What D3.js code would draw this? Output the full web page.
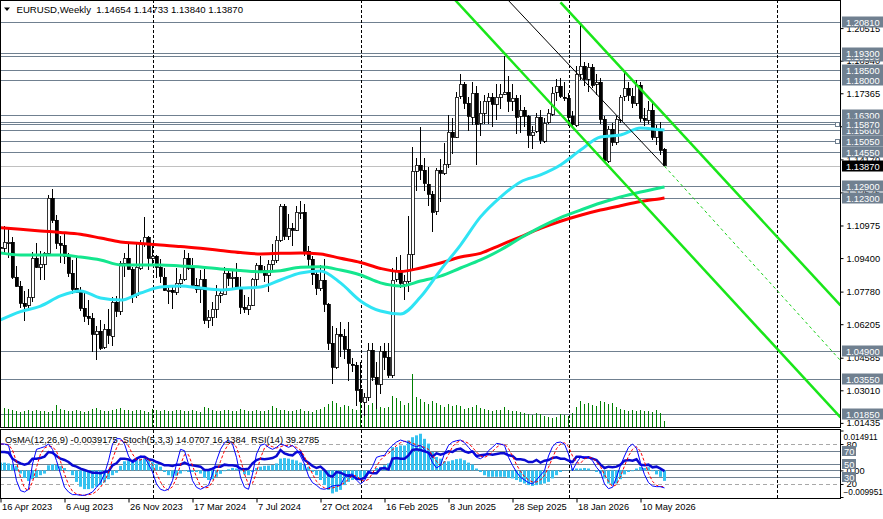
<!DOCTYPE html>
<html>
<head>
<meta charset="utf-8">
<script src="https://cdn.jsdelivr.net/npm/d3@7"></script>
<style>
  html, body { margin: 0; padding: 0; background: #fff; }
  svg { display: block; font-family: "Liberation Sans", Arial, sans-serif; }
</style>
</head>
<body>
<div id="chart"></div>
<script>
// weekly EURUSD bars, first bar on Sunday 16 Apr 2023
const symbolName = "EURUSD,Weekly";
const firstBarDate = "2023-04-16";

const openPrices = [
  1.0995,1.0990,1.1017,1.1018,1.0850,1.0805,1.0725,1.0710,1.0750,1.0940,
  1.0895,1.0910,1.0965,1.1230,1.1125,1.1015,1.1005,1.0950,1.0870,1.0795,
  1.0775,1.0700,1.0660,1.0650,1.0575,1.0590,1.0510,1.0595,1.0565,1.0730,
  1.0685,1.0915,1.0940,1.0885,1.0760,1.0895,1.1010,1.1040,1.0940,1.0950,
  1.0895,1.0850,1.0785,1.0785,1.0775,1.0820,1.0838,1.0940,1.0890,1.0808,
  1.0790,1.0837,1.0640,1.0655,1.0693,1.0760,1.0770,1.0870,1.0845,1.0850,
  1.0800,1.0703,1.0692,1.0713,1.0840,1.0907,1.0880,1.0855,1.0910,1.0930,
  1.1027,1.1192,1.1048,1.1085,1.1075,1.1163,1.1165,1.0975,1.0937,1.0865,
  1.0795,1.0835,1.0720,1.0530,1.0415,1.0575,1.0565,1.0500,1.0430,1.0425,
  1.0305,1.0245,1.0270,1.0495,1.0365,1.0330,1.0490,1.0460,1.0375,1.0835,
  1.0880,1.0815,1.0830,1.0960,1.1360,1.1390,1.1365,1.1300,1.1250,1.1165,
  1.1365,1.1350,1.1395,1.1550,1.1525,1.1720,1.1780,1.1690,1.1625,1.1740,
  1.1590,1.1640,1.1700,1.1720,1.1685,1.1720,1.1735,1.1745,1.1700,1.1715,
  1.1625,1.1655,1.1625,1.1535,1.1550,1.1620,1.1510,1.1595,1.1640,1.1740,
  1.1770,1.1720,1.1715,1.1625,1.1585,1.1830,1.1870,1.1805,1.1865,1.1780,
  1.1790,1.1610,1.1410,1.1565,1.1500,1.1610,1.1720,1.1760,1.1725,1.1690,
  1.1775,1.1615,1.1605,1.1655,1.1525,1.1560,1.14654
];
const highPrices = [
  1.1000,1.1095,1.1092,1.1040,1.0900,1.0830,1.0780,1.0790,1.0970,1.1012,
  1.0975,1.0970,1.1245,1.1276,1.1150,1.1045,1.1065,1.0965,1.0930,1.0945,
  1.0800,1.0770,1.0735,1.0675,1.0610,1.0640,1.0620,1.0695,1.0750,1.0755,
  1.0925,1.0965,1.1017,1.0895,1.1010,1.1025,1.1139,1.1045,1.1000,1.0955,
  1.0935,1.0890,1.0810,1.0805,1.0890,1.0865,1.0981,1.0965,1.0940,1.0845,
  1.0880,1.0885,1.0690,1.0730,1.0810,1.0790,1.0895,1.0885,1.0880,1.0915,
  1.0850,1.0760,1.0750,1.0845,1.0915,1.0948,1.0900,1.0930,1.1010,1.1045,
  1.1202,1.1202,1.1155,1.1110,1.1190,1.1214,1.1200,1.1000,1.0950,1.0875,
  1.0905,1.0935,1.0725,1.0610,1.0600,1.0630,1.0595,1.0630,1.0455,1.0440,
  1.0440,1.0290,1.0530,1.0530,1.0440,1.0515,1.0530,1.0530,1.0890,1.0945,
  1.0955,1.0860,1.1145,1.1475,1.1425,1.1573,1.1425,1.1380,1.1265,1.1375,
  1.1420,1.1495,1.1630,1.1615,1.1745,1.1830,1.1790,1.1720,1.1790,1.1770,
  1.1700,1.1730,1.1740,1.1740,1.1780,1.1780,1.1919,1.1820,1.1780,1.1730,
  1.1730,1.1670,1.1630,1.1580,1.1640,1.1655,1.1615,1.1660,1.1765,1.1805,
  1.1810,1.1790,1.1740,1.1650,1.1870,1.2075,1.1890,1.1885,1.1880,1.1830,
  1.1810,1.1625,1.1580,1.1595,1.1625,1.1730,1.1840,1.1790,1.1760,1.1800,
  1.1790,1.1665,1.1700,1.1690,1.1585,1.1600,1.14733
];
const lowPrices = [
  1.0910,1.0965,1.0940,1.0840,1.0800,1.0700,1.0635,1.0700,1.0730,1.0890,
  1.0835,1.0835,1.0960,1.1110,1.0985,1.0915,1.0910,1.0850,1.0766,1.0770,
  1.0685,1.0630,1.0615,1.0488,1.0448,1.0495,1.0500,1.0525,1.0515,1.0655,
  1.0665,1.0850,1.0880,1.0723,1.0745,1.0880,1.0995,1.0880,1.0905,1.0845,
  1.0820,1.0780,1.0720,1.0695,1.0760,1.0795,1.0830,1.0880,1.0800,1.0770,
  1.0725,1.0620,1.0601,1.0610,1.0650,1.0725,1.0765,1.0805,1.0790,1.0795,
  1.0668,1.0675,1.0665,1.0710,1.0795,1.0870,1.0825,1.0775,1.0880,1.0915,
  1.1020,1.1025,1.1025,1.1000,1.1070,1.1130,1.0950,1.0900,1.0810,1.0761,
  1.0780,1.0680,1.0495,1.0332,1.0405,1.0460,1.0450,1.0345,1.0390,1.0225,
  1.0240,1.0178,1.0250,1.0345,1.0210,1.0285,1.0400,1.0360,1.0360,1.0825,
  1.0795,1.0735,1.0775,1.0880,1.1265,1.1315,1.1265,1.1190,1.1065,1.1150,
  1.1210,1.1340,1.1375,1.1445,1.1520,1.1710,1.1660,1.1555,1.1585,1.1392,
  1.1530,1.1590,1.1590,1.1575,1.1605,1.1660,1.1730,1.1645,1.1650,1.1540,
  1.1545,1.1575,1.1470,1.1468,1.1545,1.1490,1.1495,1.1590,1.1625,1.1700,
  1.1715,1.1700,1.1580,1.1570,1.1575,1.1800,1.1770,1.1745,1.1760,1.1730,
  1.1590,1.1400,1.1400,1.1480,1.1485,1.1595,1.1700,1.1700,1.1665,1.1675,
  1.1600,1.1580,1.1590,1.1510,1.1485,1.1440,1.13840
];
const closePrices = [
  1.0990,1.1017,1.1018,1.0850,1.0805,1.0725,1.0710,1.0750,1.0940,1.0895,
  1.0910,1.0965,1.1230,1.1125,1.1015,1.1005,1.0950,1.0870,1.0795,1.0775,
  1.0700,1.0660,1.0650,1.0575,1.0590,1.0510,1.0595,1.0565,1.0730,1.0685,
  1.0915,1.0940,1.0885,1.0760,1.0895,1.1010,1.1040,1.0940,1.0950,1.0895,
  1.0850,1.0785,1.0785,1.0775,1.0820,1.0838,1.0940,1.0890,1.0808,1.0790,
  1.0837,1.0640,1.0655,1.0693,1.0760,1.0770,1.0870,1.0845,1.0850,1.0800,
  1.0703,1.0692,1.0713,1.0840,1.0907,1.0880,1.0855,1.0910,1.0930,1.1027,
  1.1192,1.1048,1.1085,1.1075,1.1163,1.1165,1.0975,1.0937,1.0865,1.0795,
  1.0835,1.0720,1.0530,1.0415,1.0575,1.0565,1.0500,1.0430,1.0425,1.0305,
  1.0245,1.0270,1.0495,1.0365,1.0330,1.0490,1.0460,1.0375,1.0835,1.0880,
  1.0815,1.0830,1.0960,1.1360,1.1390,1.1365,1.1300,1.1250,1.1165,1.1365,
  1.1350,1.1395,1.1550,1.1525,1.1720,1.1780,1.1690,1.1625,1.1740,1.1590,
  1.1640,1.1700,1.1720,1.1685,1.1720,1.1735,1.1745,1.1700,1.1715,1.1625,
  1.1655,1.1625,1.1535,1.1550,1.1620,1.1510,1.1595,1.1640,1.1740,1.1770,
  1.1720,1.1715,1.1625,1.1585,1.1830,1.1870,1.1805,1.1865,1.1780,1.1790,
  1.1610,1.1410,1.1565,1.1500,1.1610,1.1720,1.1760,1.1725,1.1690,1.1775,
  1.1615,1.1605,1.1655,1.1525,1.1560,1.1465,1.13870
];
const tickVolume = [
  170,190,180,170,160,150,160,170,160,170, 165,160,155,165,220,180,170,160,165,170,
  160,155,160,180,190,175,165,160,170,180, 190,175,170,165,170,175,160,150,180,170,
  165,170,160,165,175,170,160,165,170,160, 155,200,190,170,165,160,175,170,165,160,
  180,170,160,165,170,160,165,175,210,190, 175,170,165,160,175,180,160,165,155,170,
  180,200,230,260,240,200,220,210,180,170, 240,230,220,240,210,200,190,200,310,290,
  260,220,240,530,300,280,250,230,260,240, 220,200,230,210,220,215,180,190,200,220,
  190,180,170,165,175,170,200,170,165,160, 150,140,130,120,140,130,110,100,90,100,
  130,120,110,140,200,260,230,240,220,210, 260,250,230,240,200,180,170,165,175,160,
  170,165,160,150,175,145,60
];

// moving averages read at every 5th bar
const maBars = [0,5,10,15,20,25,30,35,40,45,50,55,60,65,70,75,80,85,90,95,100,105,110,115,120,125,130,135,140,145,150,155,160,165,166];
const maFast = [1.0641,1.0681,1.0708,1.0757,1.0781,1.0747,1.0737,1.0771,1.0800,1.0805,1.0795,1.0786,1.0795,1.0800,1.0834,1.0868,1.0878,1.0820,1.0733,1.0684,1.0670,1.0752,1.0882,1.1003,1.1139,1.1235,1.1308,1.1342,1.1390,1.1462,1.1525,1.1535,1.1569,1.1560,1.1559];
const maMid = [1.0965,1.0955,1.0955,1.0955,1.0945,1.0931,1.0907,1.0907,1.0907,1.0902,1.0897,1.0887,1.0880,1.0874,1.0879,1.0896,1.0898,1.0882,1.0858,1.0820,1.0805,1.0829,1.0853,1.0892,1.0931,1.0979,1.1037,1.1090,1.1136,1.1172,1.1206,1.1235,1.1259,1.1280,1.1284];
const maSlow = [1.1087,1.1079,1.1071,1.1064,1.1055,1.1037,1.1018,1.1011,1.1003,1.0996,1.0987,1.0977,1.0967,1.0960,1.0963,1.0965,1.0960,1.0939,1.0919,1.0890,1.0875,1.0892,1.0916,1.0945,1.0963,1.1003,1.1043,1.1084,1.1118,1.1147,1.1172,1.1193,1.1213,1.1227,1.1230];

// OsMA(12,26,9), Stoch(5,3,3), RSI(14)
const osmaValues = [
  0.0029,0.0029,0.0026,0.0022,0.0017,-0.0012,-0.0028,-0.0040,-0.0033,-0.0026,
  -0.0018,-0.0012,0.0019,0.0023,0.0020,0.0016,0.0009,-0.0003,-0.0018,-0.0043,
  -0.0061,-0.0070,-0.0070,-0.0067,-0.0061,-0.0055,-0.0045,-0.0033,-0.0018,-0.0009,
  0.0017,0.0034,0.0038,0.0034,0.0038,0.0044,0.0044,0.0038,0.0032,0.0024,
  0.0014,-0.0006,-0.0018,-0.0024,-0.0020,-0.0012,-0.0003,-0.0006,-0.0006,-0.0006,
  -0.0012,-0.0028,-0.0036,-0.0034,-0.0024,-0.0013,-0.0003,0.0004,0.0009,0.0007,
  -0.0003,-0.0015,-0.0018,-0.0006,0.0009,0.0014,0.0017,0.0018,0.0020,0.0026,
  0.0044,0.0046,0.0044,0.0040,0.0037,0.0029,0.0022,0.0013,-0.0006,-0.0018,
  -0.0036,-0.0055,-0.0073,-0.0086,-0.0080,-0.0073,-0.0055,-0.0043,-0.0036,-0.0036,
  -0.0030,-0.0028,-0.0006,0.0001,0.0009,0.0013,0.0019,0.0026,0.0087,0.0087,
  0.0093,0.0093,0.0112,0.0124,0.0131,0.0137,0.0118,0.0100,0.0069,0.0050,
  0.0044,0.0034,0.0034,0.0038,0.0042,0.0044,0.0038,0.0029,0.0022,0.0007,
  -0.0006,-0.0018,-0.0024,-0.0024,-0.0024,-0.0024,-0.0024,-0.0028,-0.0030,-0.0036,
  -0.0043,-0.0049,-0.0055,-0.0058,-0.0055,-0.0052,-0.0049,-0.0043,-0.0030,-0.0018,
  -0.0006,0.0001,0.0001,0.0007,0.0007,0.0007,0.0009,0.0007,0.0001,-0.0006,
  -0.0012,-0.0030,-0.0049,-0.0055,-0.0049,-0.0033,-0.0015,-0.0006,-0.0003,0.0007,
  0.0013,0.0009,0.0012,-0.0003,-0.0015,-0.0024,-0.0039175
];
const stochMain = [
  80,80,78,55,25,10,8,12,50,72, 74,76,80,72,55,35,15,8,4,4,
  3,3,5,8,15,22,35,55,80,88, 88,80,62,52,55,62,60,50,38,20,
  12,10,12,25,50,72,70,50,25,15, 12,15,18,35,55,72,82,86,80,60,
  30,15,12,35,65,78,80,75,72,75, 80,78,75,78,72,62,50,32,22,18,
  13,12,14,17,18,18,30,34,35,26, 20,25,36,46,60,62,63,72,78,83,
  86,84,82,78,76,78,72,65,52,44, 48,66,78,83,85,86,82,75,68,60,
  58,62,70,75,81,80,78,60,48,38, 30,26,22,20,26,33,40,62,76,82,
  83,80,65,40,52,60,61,60,55,45, 38,20,13,15,30,48,62,75,80,74,
  52,34,22,17,16,16,14.0707
];
const stochSignal = [
  80,80,79,71,53,30,14,10,23,45, 65,74,77,76,69,54,35,19,9,5,
  4,3,4,5,9,15,24,37,57,74, 85,85,77,65,56,56,59,57,49,36,
  23,14,11,16,29,49,64,64,48,30, 17,14,15,23,36,54,70,80,83,75,
  57,35,19,21,37,59,74,78,76,74, 76,78,78,77,75,71,61,48,35,24,
  18,14,13,14,16,18,22,27,33,32, 27,24,27,36,47,56,62,66,71,78,
  82,84,84,81,79,77,75,72,63,54, 48,53,64,76,82,85,84,81,75,68,
  62,60,63,69,75,79,80,73,62,49, 39,31,26,23,23,26,33,45,59,73,
  80,82,76,62,52,51,58,60,59,53, 46,34,24,16,19,31,47,62,72,76,
  69,53,36,24,18,16,16.1384
];
const rsiValues = [
  68,68,67,58,54,51,49,51,58,58, 59,61,68,67,62,58,56,53,48,46,
  43,41,39,37,37,36,38,39,48,51, 58,58,57,54,58,61,61,57,56,53,
  51,48,48,47,49,49,52,49,48,47, 46,41,41,43,46,46,49,48,48,47,
  43,42,43,51,56,58,57,58,59,62, 71,66,64,63,68,68,56,52,47,44,
  46,41,33,31,38,37,34,32,32,28, 27,29,38,36,36,43,44,42,58,59,
  58,58,63,71,72,71,69,67,61,66, 64,66,69,68,72,73,69,67,69,62,
  63,64,65,64,65,66,66,63,62,57, 57,56,53,53,56,52,55,56,59,60,
  58,58,55,53,61,61,59,60,58,56, 49,44,46,45,46,49,55,56,55,57,
  49,48,49,45,46,43,39.2785
];

// horizontal levels (first three sit behind their neighbours on the scale)
const hiddenLevels = [1.1919, 1.1600, 1.1560];
const levelPrices = [1.2081, 1.1930, 1.1850, 1.1800, 1.1630, 1.1587, 1.1505, 1.1455, 1.1290, 1.1230, 1.0490, 1.0355, 1.0185];
const markedLevels = [1.1587, 1.1505];
const priceTicks = [1.20515, 1.18940, 1.17365, 1.15770, 1.14170, 1.12575, 1.10975, 1.09400, 1.07780, 1.06205, 1.04585, 1.03010, 1.01435];
const timeLabels = ["2023-04-16","2023-08-06","2023-11-26","2024-03-17","2024-07-07","2024-10-27","2025-02-16","2025-06-08","2025-09-28","2026-01-18","2026-05-10"];
const yearSeparators = ["2024-01-07","2025-01-05","2026-01-04","2027-01-03"];
const oscLevels = [80, 70, 50, 30, 20];
const oscDashed = [80, 20];
const osmaScaleLabels = [0.014911, 0, -0.009951];

// trend objects: [date, price] end points
const channelUpper = [["2025-12-21", 1.2176], ["2027-04-25", 1.0711]];
const channelLower = [["2025-05-25", 1.2264], ["2027-04-25", 1.0170]];
const trendLine = [["2025-09-14", 1.2205], ["2026-06-21", 1.1384]];
const trendRay = [["2026-06-21", 1.1384], ["2027-04-25", 1.0445]];

const parse = d3.utcParse("%Y-%m-%d");
const barDates = d3.range(closePrices.length).map((i) => d3.utcDay.offset(parse(firstBarDate), 7 * i));
const last = closePrices.length - 1;

const W = 883, H = 519;
const plotRight = 840, mainBottom = 427, indTop = 430, indBottom = 498;
const levelColor = "#708090";
const allLevels = hiddenLevels.concat(levelPrices);

const svg = d3.select("#chart").append("svg").attr("width", W).attr("height", H);

const x = d3.scaleUtc().domain([barDates[0], barDates[last]]).range([0.5, 4 * last + 0.5]);
const yPrice = d3.scaleLinear().domain([1.0185, 1.2081]).range([414.3, 22]);
const yVol = d3.scaleLinear().domain([0, 560]).range([mainBottom, 371]);
const yOsma = d3.scaleLinear().domain([-0.009951, 0.014911]).range([497, 430.5]);
const yOsc = d3.scaleLinear().domain([0, 100]).range([497.3, 430.7]);
const cx = (i) => Math.floor(x(barDates[i])) + 0.5;

const defs = svg.append("defs");
defs.append("clipPath").attr("id", "clipMain").append("rect").attr("x", 1).attr("y", 1).attr("width", plotRight - 1).attr("height", mainBottom - 1);
defs.append("clipPath").attr("id", "clipInd").append("rect").attr("x", 1).attr("y", indTop).attr("width", plotRight - 1).attr("height", indBottom - indTop);

drawMain();
drawIndicator();
drawAxes();

function drawMain() {
  const g = svg.append("g").attr("clip-path", "url(#clipMain)");

  // horizontal levels
  g.selectAll(".level").data(allLevels).enter().append("line")
    .attr("x1", 0).attr("x2", plotRight)
    .attr("y1", (d) => Math.round(yPrice(d)) + 0.5).attr("y2", (d) => Math.round(yPrice(d)) + 0.5)
    .attr("stroke", levelColor).attr("stroke-width", 1);

  // bid line
  g.append("line").attr("x1", 0).attr("x2", plotRight)
    .attr("y1", Math.round(yPrice(closePrices[last])) + 0.5).attr("y2", Math.round(yPrice(closePrices[last])) + 0.5)
    .attr("stroke", "#c0c0c0");

  // period separators
  g.selectAll(".sep").data(yearSeparators).enter().append("line")
    .attr("x1", (d) => Math.floor(x(parse(d))) + 1.5).attr("x2", (d) => Math.floor(x(parse(d))) + 1.5)
    .attr("y1", 0).attr("y2", mainBottom)
    .attr("stroke", "#000").attr("stroke-dasharray", "3,2");

  // volumes
  g.selectAll(".vol").data(tickVolume).enter().append("line")
    .attr("x1", (d, i) => cx(i)).attr("x2", (d, i) => cx(i))
    .attr("y1", yVol(0)).attr("y2", (d) => yVol(d))
    .attr("stroke", "#008000").attr("shape-rendering", "crispEdges");

  // candles
  const idx = d3.range(closePrices.length);
  const candles = g.append("g").attr("shape-rendering", "crispEdges");
  candles.selectAll(".wick").data(idx).enter().append("line")
    .attr("x1", cx).attr("x2", cx)
    .attr("y1", (i) => yPrice(highPrices[i])).attr("y2", (i) => yPrice(lowPrices[i]))
    .attr("stroke", "#000");
  candles.selectAll(".body").data(idx).enter().append("rect")
    .attr("x", (i) => cx(i) - 1.5)
    .attr("width", 3)
    .attr("y", (i) => Math.round(yPrice(Math.max(openPrices[i], closePrices[i]))))
    .attr("height", (i) => Math.max(1, Math.round(Math.abs(yPrice(openPrices[i]) - yPrice(closePrices[i])))))
    .attr("fill", (i) => (closePrices[i] >= openPrices[i] ? "#fff" : "#000"))
    .attr("stroke", "#000").attr("stroke-width", 0.8);

  // moving averages
  const maLine = (vals) => d3.line()
    .x((d, j) => x(barDates[maBars[j]]))
    .y((d) => yPrice(d))
    .curve(d3.curveMonotoneX)(vals);
  [[maSlow, "#ff0000"], [maMid, "#14e68e"], [maFast, "#2fe4f4"]].forEach(([vals, col]) => {
    g.append("path").attr("d", maLine(vals)).attr("fill", "none").attr("stroke", col).attr("stroke-width", 3);
  });

  // channel and trend lines
  const seg = (pts) => d3.line().x((p) => x(parse(p[0]))).y((p) => yPrice(p[1]))(pts);
  g.append("path").attr("d", seg(channelUpper)).attr("stroke", "#19e619").attr("stroke-width", 2.5).attr("fill", "none");
  g.append("path").attr("d", seg(channelLower)).attr("stroke", "#19e619").attr("stroke-width", 2.5).attr("fill", "none");
  g.append("path").attr("d", seg(trendLine)).attr("stroke", "#000").attr("stroke-width", 1).attr("fill", "none");
  g.append("path").attr("d", seg(trendRay)).attr("stroke", "#19d019").attr("stroke-width", 1).attr("stroke-dasharray", "3,3").attr("fill", "none");

  // frame
  svg.append("rect").attr("x", 0.5).attr("y", 0.5).attr("width", plotRight).attr("height", mainBottom)
    .attr("fill", "none").attr("stroke", "#000");

  // header
  svg.append("path").attr("d", "M4,7.5 L10,7.5 L7,11 Z").attr("fill", "#000");
  svg.append("text").attr("x", 16.5).attr("y", 12.7)
    .style("font-size", "9.6px").style("white-space", "pre")
    .text(`${symbolName}  ${openPrices[last].toFixed(5)} ${highPrices[last].toFixed(5)} ${lowPrices[last].toFixed(5)} ${closePrices[last].toFixed(5)}`);
}

function drawIndicator() {
  const g = svg.append("g").attr("clip-path", "url(#clipInd)");

  g.selectAll(".osc-level").data(oscLevels).enter().append("line")
    .attr("x1", 0).attr("x2", plotRight)
    .attr("y1", (d) => Math.round(yOsc(d)) + 0.5).attr("y2", (d) => Math.round(yOsc(d)) + 0.5)
    .attr("stroke", (d) => (oscDashed.includes(d) ? "#a8a8a8" : levelColor))
    .attr("stroke-dasharray", (d) => (oscDashed.includes(d) ? "4,3" : null));
  g.append("line").attr("x1", 0).attr("x2", plotRight)
    .attr("y1", Math.round(yOsma(0)) + 0.5).attr("y2", Math.round(yOsma(0)) + 0.5)
    .attr("stroke", levelColor);

  g.selectAll(".sep").data(yearSeparators).enter().append("line")
    .attr("x1", (d) => Math.floor(x(parse(d))) + 1.5).attr("x2", (d) => Math.floor(x(parse(d))) + 1.5)
    .attr("y1", indTop).attr("y2", indBottom)
    .attr("stroke", "#000").attr("stroke-dasharray", "3,2");

  // OsMA histogram
  g.selectAll(".osma").data(osmaValues).enter().append("rect")
    .attr("x", (d, i) => cx(i) - 1.5).attr("width", 3)
    .attr("y", (d) => Math.min(yOsma(d), yOsma(0)))
    .attr("height", (d) => Math.abs(yOsma(d) - yOsma(0)))
    .attr("fill", "#36c2f0");

  const oscLine = d3.line().x((d, i) => x(barDates[i])).y((d) => yOsc(d));
  g.append("path").attr("d", oscLine(rsiValues)).attr("fill", "none").attr("stroke", "#0a0ad2").attr("stroke-width", 2.5);
  g.append("path").attr("d", oscLine(stochSignal)).attr("fill", "none").attr("stroke", "#ff0000").attr("stroke-dasharray", "3,2");
  g.append("path").attr("d", oscLine(stochMain)).attr("fill", "none").attr("stroke", "#0000ff");

  svg.append("rect").attr("x", 0.5).attr("y", indTop - 0.5).attr("width", plotRight).attr("height", indBottom - indTop + 1)
    .attr("fill", "none").attr("stroke", "#000");

  svg.append("text").attr("x", 5).attr("y", 442.5)
    .style("font-size", "9.3px").style("white-space", "pre")
    .text(`OsMA(12,26,9) ${osmaValues[last].toFixed(7)}  Stoch(5,3,3) ${stochMain[last].toFixed(4)} ${stochSignal[last].toFixed(4)}  RSI(14) ${rsiValues[last].toFixed(4)}`);
}

function drawAxes() {
  // price scale
  const pAxis = svg.append("g").attr("transform", `translate(${plotRight + 0.5},0)`)
    .call(d3.axisRight(yPrice).tickValues(priceTicks).tickSize(3).tickPadding(3).tickFormat(d3.format(".5f")));
  pAxis.select(".domain").remove();
  pAxis.selectAll("text").style("font-size", "9.3px").attr("fill", "#000");

  // level labels: hidden ones first, then the visible ones on top
  const boxes = svg.append("g");
  allLevels.forEach((p) => {
    const yy = Math.round(yPrice(p));
    boxes.append("rect").attr("x", 842).attr("y", yy - 5.5).attr("width", 41).attr("height", 11).attr("fill", levelColor);
    boxes.append("text").attr("x", 846).attr("y", yy + 3.5).attr("fill", "#fff").style("font-size", "9.3px").text(p.toFixed(5));
  });
  markedLevels.forEach((p) => {
    svg.append("rect").attr("x", 835.5).attr("y", Math.round(yPrice(p)) - 1.5).attr("width", 4).attr("height", 4)
      .attr("fill", "#fff").attr("stroke", levelColor);
  });
  const bidY = Math.round(yPrice(closePrices[last]));
  boxes.append("rect").attr("x", 842).attr("y", bidY - 5.5).attr("width", 41).attr("height", 11).attr("fill", "#000");
  boxes.append("text").attr("x", 846).attr("y", bidY + 3.5).attr("fill", "#fff").style("font-size", "9.3px").text(closePrices[last].toFixed(5));

  // indicator scale
  const oAxis = svg.append("g").attr("transform", `translate(${plotRight + 0.5},0)`)
    .call(d3.axisRight(yOsma).tickValues(osmaScaleLabels).tickSize(3).tickPadding(3)
      .tickFormat((d) => (d === 0 ? "0.00" : d3.format(".6f")(d))));
  oAxis.select(".domain").remove();
  oAxis.selectAll("text").style("font-size", (d) => (d === 0 ? "9.3px" : "8.3px")).attr("fill", "#000")
    .attr("x", (d) => (d === 0 ? 6 : 3))
    .attr("y", (d) => (d > 0 ? 6 : d < 0 ? -5 : 0));
  const sAxis = svg.append("g").attr("transform", `translate(${plotRight + 0.5},0)`)
    .call(d3.axisRight(yOsc).tickValues(oscDashed).tickSize(3).tickPadding(3));
  sAxis.select(".domain").remove();
  sAxis.selectAll("text").style("font-size", "9.3px").attr("fill", "#000");
  oscLevels.filter((d) => !oscDashed.includes(d)).forEach((d) => {
    const yy = Math.round(yOsc(d));
    svg.append("rect").attr("x", 842).attr("y", yy - 5).attr("width", 14).attr("height", 10).attr("fill", levelColor);
    svg.append("text").attr("x", 844).attr("y", yy + 3.5).attr("fill", "#fff").style("font-size", "9.3px").text(d);
  });

  // time scale
  const tAxis = svg.append("g").attr("transform", `translate(0,${indBottom + 0.5})`)
    .call(d3.axisBottom(x).tickValues(timeLabels.map(parse)).tickSize(4).tickFormat(d3.utcFormat("%-d %b %Y")));
  tAxis.select(".domain").remove();
  tAxis.selectAll("text").style("font-size", "9.3px").attr("fill", "#000")
    .attr("text-anchor", "start").attr("x", 1).attr("y", 5);
}
</script>
</body>
</html>
